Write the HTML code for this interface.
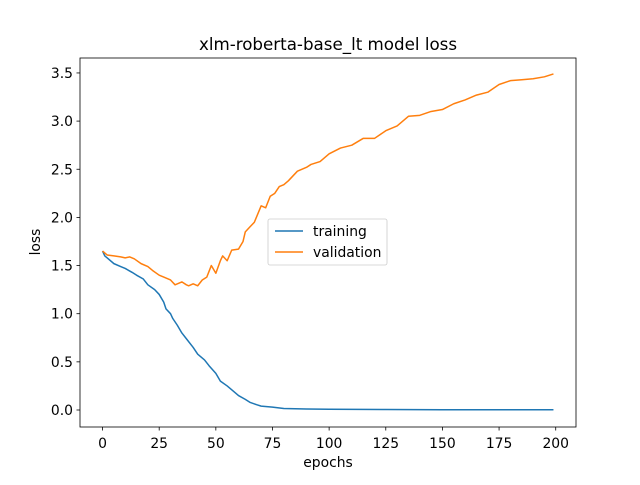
<!DOCTYPE html>
<html><head><meta charset="utf-8"><style>
body{margin:0;background:#fff;}
svg text{font-family:"DejaVu Sans","Liberation Sans",sans-serif;fill:#000;}
</style></head><body>
<svg id="chart" width="640" height="480" viewBox="0 0 640 480" xmlns="http://www.w3.org/2000/svg">
<rect width="640" height="480" fill="#fff"/>
<text x="328" y="50" font-size="16.7" text-anchor="middle">xlm-roberta-base_lt model loss</text>
<g id="plot"></g>
<rect x="80" y="58" width="496" height="369" fill="none" stroke="#000" stroke-width="0.8"/>
<text x="328" y="467" font-size="13.9" text-anchor="middle">epochs</text>
<text transform="translate(40,242) rotate(-90)" font-size="13.9" text-anchor="middle">loss</text>
<g>
<rect x="268" y="219" width="119" height="46" rx="2" fill="#fff" fill-opacity="0.8" stroke="#ccc" stroke-width="0.8"/>
<line x1="275" y1="231" x2="303" y2="231" stroke="#1f77b4" stroke-width="1.5"/>
<text x="313" y="236" font-size="13.9">training</text>
<line x1="275" y1="252" x2="303" y2="252" stroke="#ff7f0e" stroke-width="1.5"/>
<text x="313" y="257" font-size="13.9">validation</text>
</g>
</svg>
<script>
const xTicks=[0,25,50,75,100,125,150,175,200];
const yTicks=[0.0,0.5,1.0,1.5,2.0,2.5,3.0,3.5];
const trainEpochs=[0,1,2,5,8,10,13,15,18,20,23,25,27,28,30,31,33,35,37,40,42,45,47,50,52,55,58,60,63,65,68,70,75,80,90,100,125,150,175,199];
const trainLoss=[1.65,1.60,1.58,1.52,1.49,1.47,1.43,1.40,1.36,1.30,1.25,1.20,1.12,1.05,1.00,0.95,0.88,0.80,0.74,0.65,0.58,0.52,0.46,0.38,0.30,0.25,0.19,0.15,0.11,0.08,0.055,0.04,0.03,0.015,0.01,0.008,0.005,0.003,0.002,0.002];
const valEpochs=[0,2,5,8,10,12,14,17,20,22,25,27,30,32,35,37,38,40,42,44,46,48,50,52,53,55,57,60,62,63,65,67,70,72,74,76,78,80,82,86,90,92,96,100,105,110,115,120,125,130,135,140,145,150,155,160,165,170,175,180,185,190,195,199];
const valLoss=[1.65,1.61,1.60,1.59,1.58,1.59,1.57,1.52,1.49,1.45,1.40,1.38,1.35,1.30,1.33,1.30,1.29,1.31,1.29,1.35,1.38,1.50,1.42,1.55,1.60,1.55,1.66,1.67,1.75,1.85,1.90,1.95,2.12,2.10,2.22,2.25,2.32,2.34,2.38,2.48,2.52,2.55,2.58,2.66,2.72,2.75,2.82,2.82,2.90,2.95,3.05,3.06,3.10,3.12,3.18,3.22,3.27,3.30,3.38,3.42,3.43,3.44,3.46,3.49];
const X=v=>80+(v+9.95)*(496/218.9);
const Y=v=>410-v*96.3;
const NS="http://www.w3.org/2000/svg";
const g=document.getElementById('plot');
function mk(t,a){const e=document.createElementNS(NS,t);for(const k in a)e.setAttribute(k,a[k]);g.appendChild(e);return e;}
xTicks.forEach(t=>{
  const l=mk('line',{x1:X(t),x2:X(t),y1:427,y2:430.5,stroke:'#000','stroke-width':0.8});
  
  
  const tx=mk('text',{x:X(t),y:448,'font-size':13.9,'text-anchor':'middle'});tx.textContent=t;
  
  
});
yTicks.forEach(t=>{
  const l=mk('line',{x1:76.5,x2:80,y1:Y(t),y2:Y(t),stroke:'#000','stroke-width':0.8});
  
  
  const tx=mk('text',{x:73,y:Y(t)+5,'font-size':13.9,'text-anchor':'end'});tx.textContent=t.toFixed(1);
  
  
});
function line(xs,ys,c,name){
  const p=mk('polyline',{points:xs.map((x,i)=>X(x)+','+Y(ys[i])).join(' '),fill:'none',stroke:c,'stroke-width':1.5,'stroke-linejoin':'round'});
  
  
}
line(trainEpochs,trainLoss,'#1f77b4','training-line');
line(valEpochs,valLoss,'#ff7f0e','validation-line');
</script>
</body></html>
